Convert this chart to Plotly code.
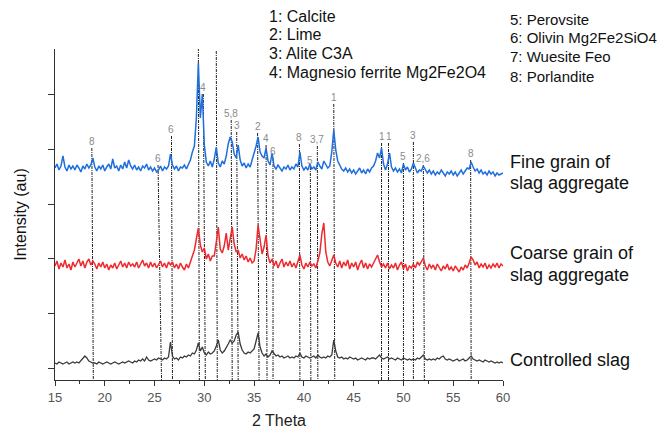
import numpy as np
import plotly.graph_objects as go

# 2-theta grid (degrees), step 0.2 from 15 to 60
two_theta = np.round(np.arange(15.0, 60.0001, 0.2), 1)

# Intensities (arbitrary units, stacked with offsets as in the figure)
fine_grain = [
    212, 216, 210, 214, 224, 213, 209, 215, 211, 214,
    210, 215, 212, 208, 214, 211, 216, 212, 215, 222,
    213, 209, 214, 211, 215, 209, 213, 216, 211, 221,
    212, 214, 209, 215, 211, 218, 212, 220, 214, 211,
    215, 210, 213, 209, 214, 212, 216, 210, 213, 209,
    212, 208, 210, 214, 209, 213, 211, 214, 226, 215,
    211, 214, 209, 213, 212, 215, 211, 216, 220, 228,
    234, 262, 317, 262, 286, 235, 218, 214, 219, 213,
    221, 233, 217, 213, 219, 216, 224, 236, 243, 238,
    226, 222, 235, 220, 214, 217, 212, 216, 213, 220,
    226, 234, 243, 228, 224, 222, 232, 219, 215, 227,
    214, 211, 215, 212, 209, 213, 211, 215, 210, 213,
    211, 216, 213, 228, 214, 210, 213, 210, 216, 211,
    213, 210, 218, 214, 211, 219, 215, 212, 214, 228,
    250, 230, 219, 214, 211, 209, 212, 208, 211, 207,
    210, 206, 209, 212, 207, 210, 206, 211, 208, 212,
    214, 219, 227, 222, 232, 216, 210, 216, 227, 213,
    209, 212, 208, 211, 207, 216, 210, 213, 208, 211,
    217, 211, 207, 210, 209, 214, 211, 207, 210, 206,
    209, 205, 208, 206, 210, 207, 204, 208, 206, 209,
    205, 208, 204, 207, 210, 206, 209, 212, 211, 218,
    213, 209, 211, 207, 210, 206, 208, 205, 209, 206,
    208, 204, 207, 205, 206, 207,
]

coarse_grain = [
    114, 119, 111, 117, 113, 120, 112, 116, 110, 118,
    113, 117, 121, 114, 119, 112, 118, 121, 115, 119,
    116, 111, 117, 113, 118, 112, 116, 110, 115, 112,
    117, 111, 115, 119, 113, 117, 112, 118, 114, 116,
    113, 118, 112, 116, 120, 114, 117, 112, 118, 113,
    117, 112, 116, 119, 113, 117, 112, 118, 115, 118,
    112, 116, 111, 117, 113, 110, 116, 112, 118, 124,
    130, 141, 152, 135, 128, 132, 121, 126, 119, 124,
    124, 138, 153, 131, 127, 134, 147, 130, 142, 153,
    136, 128, 130, 122, 126, 120, 124, 118, 122, 117,
    119, 131, 155, 140, 126, 133, 145, 124, 117, 121,
    114, 119, 112, 117, 121, 113, 118, 114, 119, 113,
    117, 112, 120, 125, 115, 111, 117, 113, 118, 114,
    116, 112, 119, 127, 146, 157, 128, 118, 114, 119,
    125, 117, 113, 119, 112, 118, 114, 120, 111, 117,
    113, 118, 110, 116, 120, 112, 117, 111, 116, 113,
    117, 121, 125, 118, 113, 116, 112, 117, 111, 115,
    112, 117, 110, 115, 118, 111, 116, 109, 114, 112,
    116, 112, 118, 115, 119, 122, 114, 110, 116, 112,
    115, 110, 116, 112, 109, 114, 111, 116, 110, 113,
    109, 114, 111, 108, 113, 110, 115, 112, 117, 123,
    120, 115, 118, 112, 116, 113, 117, 111, 115, 112,
    116, 113, 117, 112, 116, 114,
]

controlled = [
    17, 16, 18, 17, 16, 17, 18, 16, 17, 18,
    17, 18, 17, 19, 21, 24, 22, 19, 18, 17,
    17, 16, 18, 17, 16, 17, 18, 17, 16, 17,
    18, 17, 16, 17, 18, 17, 18, 19, 18, 17,
    19, 18, 20, 19, 21, 19, 23, 20, 19, 20,
    21, 20, 22, 21, 20, 22, 21, 23, 38, 24,
    21, 22, 20, 23, 22, 24, 23, 25, 24, 27,
    26, 30, 37, 29, 33, 27, 25, 28, 26, 27,
    29, 34, 40, 30, 27, 29, 32, 36, 40, 37,
    39, 45, 48, 36, 30, 27, 26, 28, 27, 29,
    31, 39, 47, 33, 27, 24, 26, 23, 25, 29,
    26, 24, 25, 23, 24, 22, 23, 24, 22, 23,
    22, 24, 23, 27, 23, 22, 24, 23, 22, 23,
    24, 22, 25, 23, 22, 23, 22, 24, 23, 25,
    40, 29, 23, 22, 23, 21, 22, 21, 23, 22,
    21, 22, 20, 21, 22, 21, 20, 22, 21, 22,
    22, 21, 23, 25, 22, 21, 22, 23, 21, 22,
    21, 20, 22, 21, 20, 22, 21, 20, 21, 20,
    21, 20, 22, 21, 23, 25, 21, 20, 21, 20,
    21, 20, 22, 21, 23, 24, 21, 20, 21, 20,
    19, 20, 21, 19, 20, 21, 19, 20, 22, 24,
    21, 20, 19, 20, 19, 18, 20, 19, 18, 19,
    18, 17, 18, 17, 18, 17,
]

# Phase identification markers
peak_labels = ["8", "6", "6", "1", "4", "3", "5,8", "3", "2", "4", "6",
               "8", "5", "3,7", "1", "1", "1", "5", "3", "2,6", "8"]
peak_top = [18.7, 25.35, 26.7, 29.4, 29.9, 31.2, 32.7, 33.25, 35.35, 36.2, 36.9,
            39.55, 40.65, 41.35, 43.0, 47.8, 48.5, 50.0, 51.0, 52.0, 56.75]
peak_bottom = [18.85, 25.7, 26.8, 29.5, 30.1, 31.3, 32.8, 33.4, 35.5, 36.3, 36.9,
               39.6, 40.7, 41.4, 43.1, 47.8, 48.5, 50.0, 51.0, 52.1, 56.8]
label_height = [239, 222, 251, 339, 293, 336, 267, 255, 254, 242, 229,
                243, 220, 241, 283, 244, 244, 224, 245, 222, 227]

legend_left = ["1: Calcite", "2: Lime", "3: Alite C3A", "4: Magnesio ferrite Mg2Fe2O4"]
legend_right = ["5: Perovsite", "6: Olivin Mg2Fe2SiO4", "7: Wuesite Feo", "8: Porlandite"]
series_text = ["Fine grain of", "slag aggregate", "Coarse grain of", "slag aggregate",
               "Controlled slag"]

FONT = "Arial, Liberation Sans, sans-serif"
Y_TOP = 331  # top of y range

fig = go.Figure()

# dashed identification lines
lx, ly = [], []
for t, b, h in zip(peak_top, peak_bottom, label_height):
    lx += [t, b, None]
    ly += [h - 7, 0, None]
fig.add_trace(go.Scatter(x=lx, y=ly, mode="lines",
                         line=dict(color="#222222", width=1, dash="3px,1px,1px,1px"),
                         hoverinfo="skip", showlegend=False))

fig.add_trace(go.Scatter(x=two_theta, y=controlled, mode="lines",
                         line=dict(color="#3a3a3a", width=1.3), name="Controlled slag",
                         showlegend=False))
fig.add_trace(go.Scatter(x=two_theta, y=coarse_grain, mode="lines",
                         line=dict(color="#ee2a2f", width=1.5), name="Coarse grain",
                         showlegend=False))
fig.add_trace(go.Scatter(x=two_theta, y=fine_grain, mode="lines",
                         line=dict(color="#1f6fdc", width=1.5), name="Fine grain",
                         showlegend=False))

annotations = []
for t, h, s in zip(peak_top, label_height, peak_labels):
    annotations.append(dict(x=t, y=h, xref="x", yref="y", text=s, showarrow=False,
                            font=dict(family=FONT, size=10, color="#8a8a8a"),
                            xanchor="center", yanchor="middle"))

# paper-coordinate text blocks
left_y = [364, 345, 326, 307.3]
right_y = [360, 342.3, 323.3, 304]
series_y = [218, 197, 127, 105, 20]
for s, yv in zip(legend_left, left_y):
    annotations.append(dict(x=0.4732, y=yv / Y_TOP, xref="paper", yref="paper", text=s,
                            showarrow=False, xanchor="left", yanchor="middle",
                            font=dict(family=FONT, size=16, color="#111111")))
for s, yv in zip(legend_right, right_y):
    annotations.append(dict(x=1.0112, y=yv / Y_TOP, xref="paper", yref="paper", text=s,
                            showarrow=False, xanchor="left", yanchor="middle",
                            font=dict(family=FONT, size=15, color="#111111")))
for s, yv in zip(series_text, series_y):
    annotations.append(dict(x=1.0112, y=yv / Y_TOP, xref="paper", yref="paper", text=s,
                            showarrow=False, xanchor="left", yanchor="middle",
                            font=dict(family=FONT, size=18, color="#111111")))

# the page body adds an 8px offset, so the figure is 8px smaller than the window
fig.update_layout(
    width=657, height=423,
    margin=dict(l=47, r=162, t=41, b=51),
    paper_bgcolor="white", plot_bgcolor="white",
    annotations=annotations,
    font=dict(family=FONT),
    xaxis=dict(range=[15, 60], tickvals=[15, 20, 25, 30, 35, 40, 45, 50, 55, 60],
               automargin=False,
               ticks="outside", ticklen=5, tickwidth=1, tickcolor="#333",
               showline=True, linecolor="#333", linewidth=1.2, showgrid=False, zeroline=False,
               minor=dict(tickvals=[17.5, 22.5, 27.5, 32.5, 37.5, 42.5, 47.5, 52.5, 57.5],
                          ticks="outside", ticklen=3, tickcolor="#333"),
               tickfont=dict(family=FONT, size=13, color="#555555"),
               title=dict(text="2 Theta", font=dict(family=FONT, size=16, color="#222"),
                          standoff=11)),
    yaxis=dict(range=[0, Y_TOP], tickvals=[12, 67, 122, 176, 231, 286], showticklabels=False,
               automargin=False,
               ticks="outside", ticklen=6, tickwidth=1, tickcolor="#333",
               showline=True, linecolor="#333", linewidth=1.2, showgrid=False, zeroline=False,
               title=dict(text="Intensity (au)", font=dict(family=FONT, size=16, color="#111"),
                          standoff=17)),
)

fig.write_html("out.html")
